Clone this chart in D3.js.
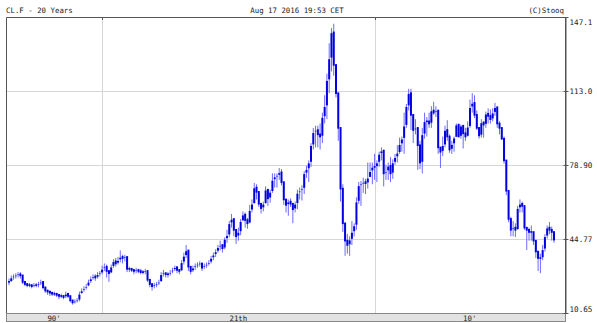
<!DOCTYPE html>
<html>
<head>
<meta charset="utf-8">
<script src="https://cdn.jsdelivr.net/npm/d3@7"></script>
<style>
  body { margin: 0; background: #fff; }
  text { font-family: "DejaVu Sans Mono", monospace; fill: #222; }
</style>
</head>
<body>
<div id="graph"></div>
<script>
const w = 597;
const h = 323;

// monthly bars, Aug 1996 .. Aug 2016
const startYear = 1996;
const startMonth = 7; // August, 0-based

const closes = [
  25, 27, 27.5, 28, 28.5,
  28, 25, 24, 23.5, 23.5, 23, 23.5, 23.5, 24, 25, 22.5, 21,
  20.5, 20, 19.5, 19.5, 19, 18.5, 18.5, 18, 19.5, 18.5, 16.5, 15.5,
  16, 16.5, 19.5, 21, 22, 23, 25, 26.5, 27.5, 27, 28.5, 29,
  31, 32, 30, 29, 32, 34.5, 33.5, 35, 36.5, 36, 36.5, 31,
  31, 30.5, 30, 30.5, 30, 29.5, 29.5, 30, 26, 24, 23, 23.5,
  24, 25, 28.5, 29, 28.5, 28.5, 29.5, 30.5, 31.8, 30.5, 30, 34,
  37, 39.5, 32, 30, 31.5, 32.5, 33, 33.5, 31.5, 32.5, 33, 34,
  36, 37.5, 39, 41, 42, 40.5, 44.8, 46.5, 52, 54, 49, 46,
  48, 53, 56, 53.5, 52, 58, 61, 68.5, 66.5, 61, 59, 61,
  67.5, 63.5, 66.5, 72, 73.5, 74, 75.5, 71, 63, 60.5, 62, 61,
  58.5, 61, 66, 67, 68, 75, 77, 80, 88, 94, 95, 93,
  92, 101, 106, 118, 128, 140, 125, 112, 96, 68, 52, 44,
  42, 44.5, 48, 51, 62, 69.5, 70, 71, 70.5, 73, 76, 78,
  78, 80, 84, 85.5, 75, 76, 78.5, 75, 80, 82.5, 84.5, 88.5,
  91, 97, 106, 112, 102, 95, 96, 88, 80, 93, 99, 99,
  98, 104, 103, 104, 87, 85, 88, 95, 92, 86, 88.5, 91.5,
  97.5, 92, 97, 93.5, 92, 96.5, 105.5, 107.5, 102, 96, 92.5, 98.5,
  97.5, 102.5, 101.5, 100, 103, 105.5, 98, 96, 91, 81, 67, 54,
  49, 50, 49, 59, 61, 60, 50, 49, 48, 48, 44, 39,
  36, 36, 40, 46, 50, 49, 48, 44.5
];

const highs = [
  26.5, 28, 28.5, 29, 29.5,
  29.5, 28, 25.5, 24.5, 24.5, 24, 24.5, 24.5, 25, 26, 25, 22.5,
  21.5, 21, 20.5, 20.5, 20, 19.5, 19.5, 19, 20.5, 20, 18.5, 16.5,
  17, 17.5, 20.5, 22, 23, 24, 26, 27.5, 28.5, 28.5, 29.5, 30,
  32.5, 33.5, 33, 30.5, 33, 35.5, 36, 36.5, 39.5, 37.5, 37.5, 36,
  32, 31.5, 31, 31.5, 31, 31, 30.5, 31, 30.5, 25.5, 24, 24.5,
  25, 26, 29.5, 30.5, 29.5, 29.5, 30.5, 31.5, 32.5, 32, 31, 35,
  38.5, 42, 39, 31.5, 32.5, 33.5, 34, 34.5, 33.5, 33.5, 34, 35,
  37, 38.5, 40, 42, 44, 42.5, 45.5, 49, 53, 56.3, 54, 47.5,
  50, 54, 57.5, 57, 54.5, 60.5, 63, 70.6, 70, 66, 61.5, 62,
  69, 67.5, 67.5, 75, 75, 75, 77.5, 77, 70.5, 62.5, 63, 63.5,
  61.5, 62, 67.5, 68.5, 69.5, 76, 78.5, 81, 89, 96, 97, 97,
  98, 103, 111, 121, 135, 142, 144, 124, 112, 95, 70, 52,
  47, 46, 53, 52, 64, 71, 71.5, 73, 72.5, 80, 80, 80,
  84, 81, 85, 87, 86, 79, 80, 82.5, 81.5, 84, 88, 91.5,
  92, 103, 107, 114, 114, 102, 100, 96, 90, 96, 103, 101,
  103, 106, 108, 106, 104, 87, 92, 97, 99.5, 93, 90, 92,
  98, 97.5, 97.5, 96, 96, 99, 109, 112, 111, 104, 96, 100,
  99, 103.5, 105, 104.5, 105, 107.5, 105, 99, 96, 92, 80, 67,
  55, 53, 52, 60, 63, 62, 60, 50, 50, 51, 48, 44,
  39, 38, 42, 47, 51, 52.6, 50.5, 48
];

const lows = [
  23.5, 25, 26, 26.5, 27,
  26.5, 24, 23, 22.5, 22.5, 22, 22.5, 22.5, 22.5, 23.5, 21.5, 20,
  19, 18.5, 18.5, 18.5, 18, 17, 17.5, 17, 17.5, 17.5, 15.5, 14.5,
  15, 15.5, 16, 19.5, 20.5, 21.5, 23, 24.5, 26, 25.5, 26.5, 27.5,
  28.5, 30, 27, 25, 29, 31.5, 32, 33, 34, 33.5, 34.5, 29.5,
  29.5, 29.5, 28.5, 29, 29, 28.5, 28.5, 28.5, 25, 22.5, 21, 22,
  22.5, 23.5, 25, 27.5, 27, 27, 28, 29, 30, 29, 28.5, 30,
  33, 36, 30, 28.5, 29.5, 30.5, 31.5, 32, 30, 31, 31.5, 32.5,
  33.5, 35, 36.5, 38.5, 39.5, 38.5, 40, 43, 45.5, 50, 46, 42.5,
  44, 46.5, 53, 50, 49.5, 52, 57, 61, 63, 59.5, 56.5, 57.5,
  61, 60, 61.5, 66, 68.5, 68.5, 72, 69.5, 60.5, 57, 55.5, 59.5,
  52, 57, 58.5, 63, 62.5, 65.5, 73, 71, 78, 86, 87, 87,
  86, 89, 98, 100, 112, 122, 120, 110, 90, 62, 48, 37,
  38, 37, 42, 46, 49, 61, 60, 66, 65.5, 68, 74, 70,
  72, 71, 78, 81, 69, 72, 72, 71, 72.5, 79, 80, 84,
  85, 84, 96, 104, 95, 89, 93, 76.6, 77, 75, 91, 92,
  96, 96, 102, 101, 84, 77.5, 83, 87, 90, 84.5, 84, 85,
  92, 92, 91, 86.5, 90, 92, 96, 103, 100.5, 95, 91, 91.5,
  91.5, 96, 98, 98, 99, 101.5, 96, 93, 90.5, 79.5, 65, 52.5,
  46, 46, 45.7, 49, 57, 57, 49, 39.7, 44, 44, 42, 36,
  30, 29, 35, 39, 45, 47, 44, 43
];

const yTicks = [10.65, 44.77, 78.90, 113.0, 147.1];
const yTickLabels = ['10.65', '44.77', '78.90', '113.0', '147.1'];
const decadeBreaks = [2000, 2010];
const decadeLabels = ["90'", "21th", "10'"];

const titleLeft = 'CL.F - 20 Years';
const titleMid = 'Aug 17 2016 19:53 CET';
const titleRight = '(C)Stooq';

// plot box
const plotL = 6, plotR = 565, plotT = 17, plotB = 313;

const svg = d3.select('#graph')
  .append('svg')
  .attr('width', w)
  .attr('height', h);

const xScale = d3.scaleLinear()
  .domain([1996.473, 2016.987])
  .range([plotL, plotR]);

const yScale = d3.scaleLinear()
  .domain([yTicks[0], yTicks[yTicks.length - 1]])
  .range([plotB, plotT]);

const bars = closes.map((c, i) => ({
  t: startYear + (startMonth + i) / 12,
  open: i ? closes[i - 1] : c,
  close: c,
  high: highs[i],
  low: lows[i]
}));

// grid
svg.append('g')
  .selectAll('line')
  .data(yTicks.slice(1, -1))
  .enter()
  .append('line')
  .attr('x1', plotL).attr('x2', plotR)
  .attr('y1', d => Math.round(yScale(d)) + 0.5)
  .attr('y2', d => Math.round(yScale(d)) + 0.5)
  .style('stroke', '#d6d6d6');

svg.append('g')
  .selectAll('line')
  .data(decadeBreaks)
  .enter()
  .append('line')
  .attr('x1', d => Math.round(xScale(d)) + 0.5)
  .attr('x2', d => Math.round(xScale(d)) + 0.5)
  .attr('y1', plotT).attr('y2', plotB)
  .style('stroke', '#d6d6d6');

// wicks
svg.append('g')
  .selectAll('line')
  .data(bars)
  .enter()
  .append('line')
  .attr('x1', d => xScale(d.t))
  .attr('x2', d => xScale(d.t))
  .attr('y1', d => yScale(d.high))
  .attr('y2', d => yScale(d.low))
  .style('stroke', '#6b6bff')
  .style('stroke-width', 1);

// bodies
svg.append('g')
  .selectAll('line')
  .data(bars)
  .enter()
  .append('line')
  .attr('x1', d => xScale(d.t))
  .attr('x2', d => xScale(d.t))
  .attr('y1', d => yScale(d.open) - 0.8)
  .attr('y2', d => yScale(d.close) + 0.8)
  .style('stroke', '#0000e0')
  .style('stroke-width', 2);

// frame
svg.append('path')
  .attr('d', `M${plotL + 0.5},${plotB}V${plotT + 0.5}H${plotR + 0.5}V${plotB}`)
  .style('fill', 'none')
  .style('stroke', '#555');

// bottom band with decade labels
svg.append('rect')
  .attr('x', plotL + 0.5).attr('y', plotB + 0.5)
  .attr('width', plotR - plotL).attr('height', 8)
  .style('fill', '#e2e2e2')
  .style('stroke', '#888');

const edges = [xScale.domain()[0]].concat(decadeBreaks, [xScale.domain()[1]]);
svg.append('g')
  .selectAll('text')
  .data(decadeLabels)
  .enter()
  .append('text')
  .attr('x', (d, i) => (xScale(edges[i]) + xScale(edges[i + 1])) / 2)
  .attr('y', plotB + 7.5)
  .attr('text-anchor', 'middle')
  .style('font-size', '7.4px')
  .text(d => d);

svg.append('g')
  .selectAll('line')
  .data(decadeBreaks)
  .enter()
  .append('line')
  .attr('x1', d => Math.round(xScale(d)) + 0.5)
  .attr('x2', d => Math.round(xScale(d)) + 0.5)
  .attr('y1', plotT).attr('y2', plotT + 3)
  .style('stroke', '#555');

// right axis
const yAxis = d3.axisRight(yScale)
  .tickValues(yTicks)
  .tickFormat((d, i) => yTickLabels[i])
  .tickSizeInner(3)
  .tickSizeOuter(0)
  .tickPadding(1);

const ya = svg.append('g')
  .attr('transform', 'translate(' + (plotR + 0.5) + ',0)')
  .call(yAxis);
ya.select('.domain').style('stroke', '#555');
ya.selectAll('.tick line').style('stroke', '#555').attr('x1', -2);
ya.selectAll('text')
  .style('font-size', '7.6px')
  .style('font-family', '"DejaVu Sans Mono", monospace')
  .style('fill', '#222')
  .attr('dy', (d, i) => i === 0 ? '-0.25em' : (i === yTicks.length - 1 ? '0.95em' : '0.32em'));

// header texts
svg.append('text').attr('x', 6).attr('y', 13).style('font-size', '7.4px').text(titleLeft);
svg.append('text').attr('x', 297).attr('y', 13).attr('text-anchor', 'middle').style('font-size', '7.4px').text(titleMid);
svg.append('text').attr('x', 564).attr('y', 13).attr('text-anchor', 'end').style('font-size', '7.4px').text(titleRight);
</script>
</body>
</html>
